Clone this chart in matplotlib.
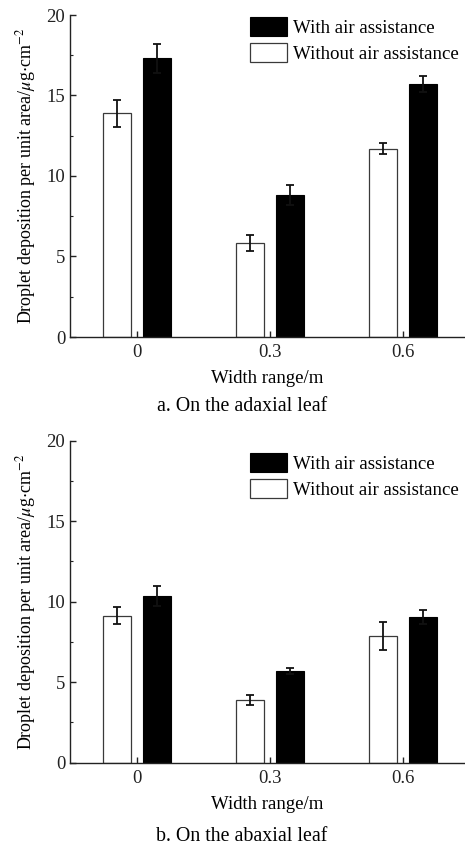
import matplotlib
matplotlib.use("Agg")
import matplotlib.pyplot as plt
import numpy as np

plt.rcParams['font.family'] = ['Liberation Serif', 'DejaVu Serif']
plt.rcParams['mathtext.fontset'] = 'stix'

widths = [0, 0.3, 0.6]
tick_labels = ["0", "0.3", "0.6"]

adaxial_without = [13.9, 5.85, 11.7]
adaxial_without_err = [0.83, 0.5, 0.33]
adaxial_with = [17.3, 8.8, 15.7]
adaxial_with_err = [0.9, 0.62, 0.5]

abaxial_without = [9.13, 3.9, 7.87]
abaxial_without_err = [0.52, 0.3, 0.85]
abaxial_with = [10.35, 5.7, 9.05]
abaxial_with_err = [0.62, 0.2, 0.43]

captions = ["a. On the adaxial leaf", "b. On the abaxial leaf"]

fig = plt.figure(figsize=(4.65, 8.46), dpi=100)
W, H = 465, 846

def make_axes(top_px, bottom_px):
    left = 70 / W
    return fig.add_axes([left, 1 - bottom_px / H, 1 - left, (bottom_px - top_px) / H])

panels = [
    (make_axes(15, 337), adaxial_without, adaxial_without_err, adaxial_with, adaxial_with_err, 17),
    (make_axes(440.7, 762.7), abaxial_without, abaxial_without_err, abaxial_with, abaxial_with_err, 453),
]

x = np.array(widths)
off = 0.045
bw = 0.063
fs = 13.5
lfs = 13.6

for i, (ax, wo, woe, wi, wie, leg_top) in enumerate(panels):
    b1 = ax.bar(x + off, wi, bw, color='black', edgecolor='black', linewidth=0.8,
                label='With air assistance', zorder=2)
    b0 = ax.bar(x - off, wo, bw, color='white', edgecolor='#3a3a3a', linewidth=0.9,
                label='Without air assistance', zorder=2)
    ax.errorbar(x - off, wo, yerr=woe, fmt='none', ecolor='#111111', elinewidth=1.3,
                capsize=3, capthick=1.3, zorder=3)
    ax.errorbar(x + off, wi, yerr=wie, fmt='none', ecolor='#111111', elinewidth=1.3,
                capsize=3, capthick=1.3, zorder=3)
    ax.set_xlim(-0.151, 0.74)
    ax.set_ylim(0, 20)
    ax.set_yticks([0, 5, 10, 15, 20])
    ax.set_yticks([2.5, 7.5, 12.5, 17.5], minor=True)
    ax.set_xticks(widths)
    ax.set_xticklabels(tick_labels)
    ax.spines['top'].set_visible(False)
    ax.spines['right'].set_visible(False)
    for s in ['left', 'bottom']:
        ax.spines[s].set_linewidth(1.0)
        ax.spines[s].set_color('#222222')
    ax.tick_params(axis='both', which='major', direction='in', length=4, width=1.0,
                   labelsize=fs, colors='#222222')
    ax.tick_params(axis='y', which='minor', direction='in', length=2.5, width=0.8,
                   colors='#222222')
    ax.tick_params(axis='x', which='major', pad=5)
    ax.set_xlabel('Width range/m', fontsize=fs, labelpad=6.5)
    ax.set_ylabel(r'Droplet deposition per unit area/$\mu$g$\cdot$cm$^{-2}$', fontsize=13,
                  labelpad=6)
    ax.legend(handles=[b1, b0], loc='upper left',
              bbox_to_anchor=(250 / W, 1 - leg_top / H), bbox_transform=fig.transFigure,
              frameon=False, fontsize=lfs, handlelength=1.97, handleheight=1.18,
              handletextpad=0.32, labelspacing=0.3, borderaxespad=0, borderpad=0)

fig.text(242 / W, 1 - 406 / H, captions[0], ha='center', va='center', fontsize=14.3)
fig.text(242 / W, 1 - 836 / H, captions[1], ha='center', va='center', fontsize=14.3)

fig.savefig('out.png', dpi=100)
